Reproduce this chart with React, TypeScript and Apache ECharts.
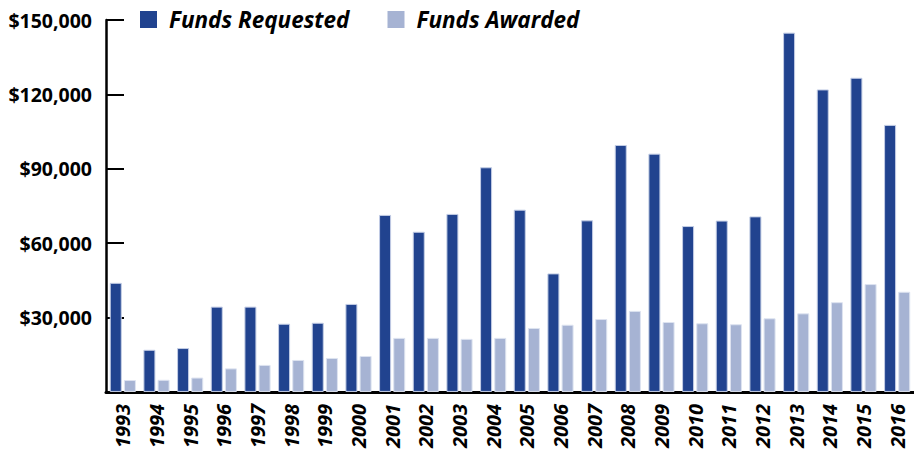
import React, { useEffect, useRef } from "react";
import * as echarts from "echarts";

const years = ["1993","1994","1995","1996","1997","1998","1999","2000","2001","2002","2003","2004","2005","2006","2007","2008","2009","2010","2011","2012","2013","2014","2015","2016"];
const fundsRequested = [44000,17000,17700,34400,34400,27500,27900,35500,71400,64600,71800,90600,73500,47800,69200,99600,96100,66900,69100,70800,144900,122000,126700,107700];
const fundsAwarded = [4800,4900,5800,9500,10900,12900,13700,14500,21800,21800,21400,21800,25800,27100,29400,32700,28200,27700,27300,29700,31700,36200,43500,40400];
const yTicks = { min: 0, max: 150000, interval: 30000 };

const FONT = "'Open Sans', sans-serif";

export default function App() {
  const ref = useRef<HTMLDivElement>(null);
  useEffect(() => {
    if (!ref.current) return;
    const chart = echarts.init(ref.current, undefined, { renderer: "svg" });
    chart.setOption({
      animation: false,
      backgroundColor: "#ffffff",
      legend: {
        left: 140,
        top: 8,
        padding: 0,
        itemWidth: 17,
        itemHeight: 17,
        itemGap: 38,
        icon: "rect",
        itemStyle: { borderWidth: 0 },
        textStyle: { fontFamily: FONT, fontWeight: "bold", fontStyle: "italic", fontSize: 22.5, color: "#000", padding: [0, 0, 0, 7] },
        data: ["Funds Requested", "Funds Awarded"],
      },
      grid: { left: 106, top: 20, bottom: 59, right: -5, containLabel: false },
      xAxis: {
        type: "category",
        data: years,
        axisLine: { show: true, lineStyle: { color: "#000", width: 3 } },
        axisTick: { show: false },
        axisLabel: {
          rotate: 90,
          margin: 12,
          interval: 0,
          fontFamily: FONT,
          fontWeight: "bold",
          fontStyle: "italic",
          fontSize: 20,
          color: "#000",
        },
      },
      yAxis: {
        type: "value",
        min: yTicks.min,
        max: yTicks.max,
        interval: yTicks.interval,
        splitLine: { show: false },
        axisLine: { show: true, lineStyle: { color: "#000", width: 2.5 } },
        axisTick: { show: true, inside: true, length: 18, lineStyle: { color: "#000", width: 2 } },
        axisLabel: {
          margin: 14,
          fontFamily: FONT,
          fontWeight: "bold",
          fontSize: 19.5,
          color: "#000",
          formatter: (v: number) => (v === 0 ? "" : "$" + v.toLocaleString("en-US")),
        },
      },
      series: [
        {
          name: "Funds Requested",
          type: "bar",
          data: fundsRequested,
          barWidth: 12,
          barGap: "18%",
          itemStyle: { color: "#21438f", borderColor: "#c3cde5", borderWidth: 1 },
        },
        {
          name: "Funds Awarded",
          type: "bar",
          data: fundsAwarded,
          barWidth: 12,
          itemStyle: { color: "#a6b3d3", borderColor: "#dde3f0", borderWidth: 1 },
        },
      ],
    });
    return () => chart.dispose();
  }, []);
  return <div ref={ref} style={{ width: 914, height: 451, position: "absolute", left: 0, top: 0 }} />;
}
